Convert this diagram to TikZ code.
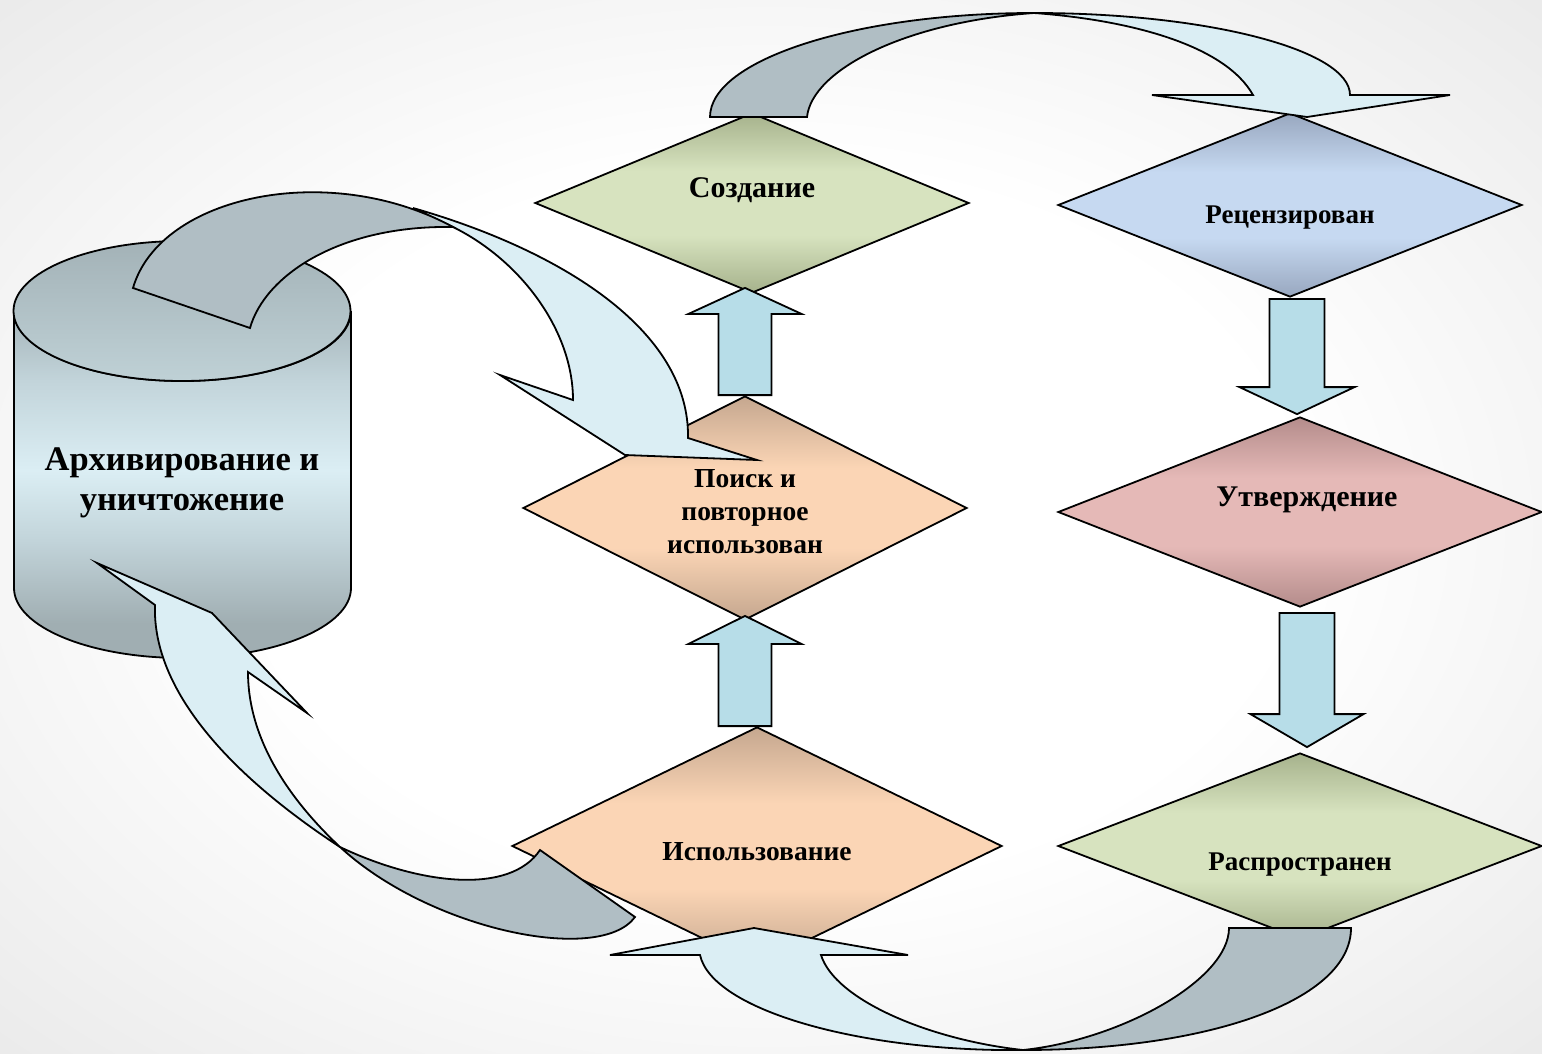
\documentclass[tikz,border=0pt]{standalone}
\usepackage{fontspec}
\setmainfont{Liberation Serif}
\usetikzlibrary{shapes.geometric,calc}

\definecolor{grnL}{HTML}{D7E3BF}\definecolor{grnD}{HTML}{A6B28C}
\definecolor{bluL}{HTML}{C6D9F1}\definecolor{bluD}{HTML}{98A7BF}
\definecolor{pnkL}{HTML}{E5B9B7}\definecolor{pnkD}{HTML}{B48C8B}
\definecolor{pchL}{HTML}{FBD5B5}\definecolor{pchD}{HTML}{C5A78F}
\definecolor{arrF}{HTML}{B7DDE8}
\definecolor{cvLight}{HTML}{DBEEF4}
\definecolor{cvDark}{HTML}{B0BEC4}
\definecolor{cylA}{HTML}{A0AEB2}\definecolor{cylB}{HTML}{C2D4DA}
\definecolor{cylC}{HTML}{DBEEF4}\definecolor{cylD}{HTML}{A5B4B9}
\definecolor{topA}{HTML}{A3B2B7}\definecolor{topB}{HTML}{BFD1D6}
\definecolor{bgG}{HTML}{EAEAEA}

\pgfdeclareverticalshading{grnsh}{100bp}{color(0bp)=(grnD); color(25bp)=(grnD); color(41bp)=(grnL); color(59bp)=(grnL); color(75bp)=(grnD); color(100bp)=(grnD)}
\pgfdeclareverticalshading{blush}{100bp}{color(0bp)=(bluD); color(25bp)=(bluD); color(41bp)=(bluL); color(59bp)=(bluL); color(75bp)=(bluD); color(100bp)=(bluD)}
\pgfdeclareverticalshading{pnksh}{100bp}{color(0bp)=(pnkD); color(25bp)=(pnkD); color(41bp)=(pnkL); color(59bp)=(pnkL); color(75bp)=(pnkD); color(100bp)=(pnkD)}
\pgfdeclareverticalshading{pchsh}{100bp}{color(0bp)=(pchD); color(25bp)=(pchD); color(41bp)=(pchL); color(59bp)=(pchL); color(75bp)=(pchD); color(100bp)=(pchD)}
\pgfdeclareverticalshading{cylsh}{100bp}{color(0bp)=(cylA); color(30bp)=(cylA); color(42bp)=(cylB); color(52bp)=(cylC); color(65bp)=(cylB); color(75bp)=(cylD); color(100bp)=(cylD)}
\pgfdeclareverticalshading{topsh}{100bp}{color(0bp)=(topB); color(25bp)=(topB); color(75bp)=(topA); color(100bp)=(topA)}
\pgfdeclareradialshading{bgsh}{\pgfpoint{0bp}{0bp}}{color(0bp)=(white); color(17bp)=(white); color(36bp)=(bgG)}

\begin{document}
\begin{tikzpicture}[x=1pt,y=-1pt]
\tikzset{
  dia/.style={diamond, draw=black, line width=1.8pt, inner sep=0pt, shade},
  blk/.style={draw=black, line width=1.8pt, fill=arrF},
  cvL/.style={draw=black, line width=1.8pt, fill=cvLight},
  cvD/.style={draw=black, line width=1.8pt, fill=cvDark},
  lbl/.style={font=\bfseries\fontsize{27.5}{33}\selectfont, align=center, inner sep=0pt},
  lblbig/.style={font=\bfseries\fontsize{30}{36}\selectfont, align=center, inner sep=0pt},
  lblsm/.style={font=\bfseries\fontsize{27}{32}\selectfont, align=center, inner sep=0pt},
}
\useasboundingbox (0,0) rectangle (1542,1053);
\shade[shading=bgsh] (0,0) rectangle (1542,1053);

% cylinder
\shadedraw[shading=cylsh, draw=black, line width=1.8pt]
  (14,311) -- (14,588) arc[start angle=180, end angle=0, x radius=168.5, y radius=70]
  -- (351,311) arc[start angle=0, end angle=180, x radius=168.5, y radius=70] -- cycle;
\shadedraw[shading=topsh, draw=black, line width=1.8pt]
  (182,311) ellipse[x radius=168.5, y radius=70];
\node[font=\bfseries\fontsize{34.5}{40}\selectfont, align=center, inner sep=0pt] (cyl) at (182,483) {Архивирование и\\уничтожение};

% diamonds
\node[dia, shading=grnsh, minimum width=434pt, minimum height=180pt] (d1) at (752,203) {};
\node[dia, shading=blush, minimum width=464pt, minimum height=184pt] (d2) at (1290,205) {};
\node[dia, shading=pnksh, minimum width=484pt, minimum height=190pt] (d3) at (1300,512) {};
\node[dia, shading=grnsh, minimum width=484pt, minimum height=186pt] (d4) at (1300,846) {};
\node[dia, shading=pchsh, minimum width=444pt, minimum height=224pt] (d5) at (745,508) {};
\node[dia, shading=pchsh, minimum width=490pt, minimum height=238pt] (d6) at (757,846) {};

% straight block arrows
\draw[blk] let \p1=(d5.north), \p2=(d1.south) in
  (\x1-26.5,\y1) -- (\x1-26.5,\y2-20) -- (\x1-56.5,\y2-20) -- (\x1,\y2+6)
  -- (\x1+56.5,\y2-20) -- (\x1+26.5,\y2-20) -- (\x1+26.5,\y1) -- cycle;
\draw[blk] let \p1=(d6.north), \p2=(d5.south) in
  (\x2-26.5,\y1) -- (\x2-26.5,\y2-23) -- (\x2-56.5,\y2-23) -- (\x2,\y2+5)
  -- (\x2+56.5,\y2-23) -- (\x2+26.5,\y2-23) -- (\x2+26.5,\y1) -- cycle;
\draw[blk] let \p1=(d2.south), \p2=(d3.north) in
  (\x1+7-27.5,\y1-1) -- (\x1+7-27.5,\y2+29) -- (\x1+7-57.5,\y2+29) -- (\x1+7,\y2+2)
  -- (\x1+7+57.5,\y2+29) -- (\x1+7+27.5,\y2+29) -- (\x1+7+27.5,\y1-1) -- cycle;
\draw[blk] let \p1=(d3.south), \p2=(d4.north) in
  (\x1+7-27.5,\y1-5) -- (\x1+7-27.5,\y2+38) -- (\x1+7-56.5,\y2+38) -- (\x1+7,\y2+5)
  -- (\x1+7+56.5,\y2+38) -- (\x1+7+27.5,\y2+38) -- (\x1+7+27.5,\y1-5) -- cycle;

% curved arrow: top (Создание -> Рецензирован)
\draw[cvL] (1034,13) .. controls (1208,13) and (1350,50) .. (1350,95) -- (1450,95) -- (1307,117)
  -- (1152,95) -- (1253,95) .. controls (1225,45) and (1130,20) .. (1034,13) -- cycle;
\draw[cvD] (710,117) -- (807,117) .. controls (812,70) and (905,22) .. (1034,13)
  .. controls (855,13) and (710,60) .. (710,117) -- cycle;

% curved arrow: bottom (Распространен -> Использование)
\draw[cvL] (1023,1050) .. controls (860,1052) and (712,1010) .. (700,955) -- (610,955) -- (754,928)
  -- (908,955) -- (821,955) .. controls (835,1000) and (930,1040) .. (1023,1050) -- cycle;
\draw[cvD] (1229,928) -- (1351,928) .. controls (1351,1000) and (1210,1050) .. (1023,1050)
  .. controls (1120,1040) and (1229,980) .. (1229,928) -- cycle;

% curved arrow: cylinder -> Поиск
\draw[cvL] (413,208) .. controls (560,250) and (690,330) .. (688,438) -- (757,460) -- (625,455)
  -- (500,375) -- (573,400) .. controls (573,330) and (520,260) .. (453,227) -- cycle;
\draw[cvD] (133,288) -- (250,328) .. controls (265,275) and (340,225) .. (453,227)
  .. controls (330,160) and (160,195) .. (133,288) -- cycle;

% curved arrow: Использование -> cylinder
\draw[cvL] (340,847) .. controls (230,775) and (152,690) .. (155,605) -- (97,563) -- (212,613)
  -- (307,713) -- (248,672) .. controls (248,740) and (290,800) .. (340,847) -- cycle;
\draw[cvD] (540,850) -- (635,917) .. controls (600,965) and (430,930) .. (340,847)
  .. controls (420,885) and (510,895) .. (540,850) -- cycle;

% labels
\node[lblbig] (t1) at (752,190) {Создание};
\node[lblsm] (t2) at (1290,218) {Рецензирован};
\node[lblbig] (t3) at (1307,500) {Утверждение};
\node[lblsm] (t4) at (1300,865) {Распространен};
\node[lbl] (t5) at (745,512) {Поиск и\\повторное\\использован};
\node[lbl] (t6) at (757,852) {Использование};
\end{tikzpicture}
\end{document}
